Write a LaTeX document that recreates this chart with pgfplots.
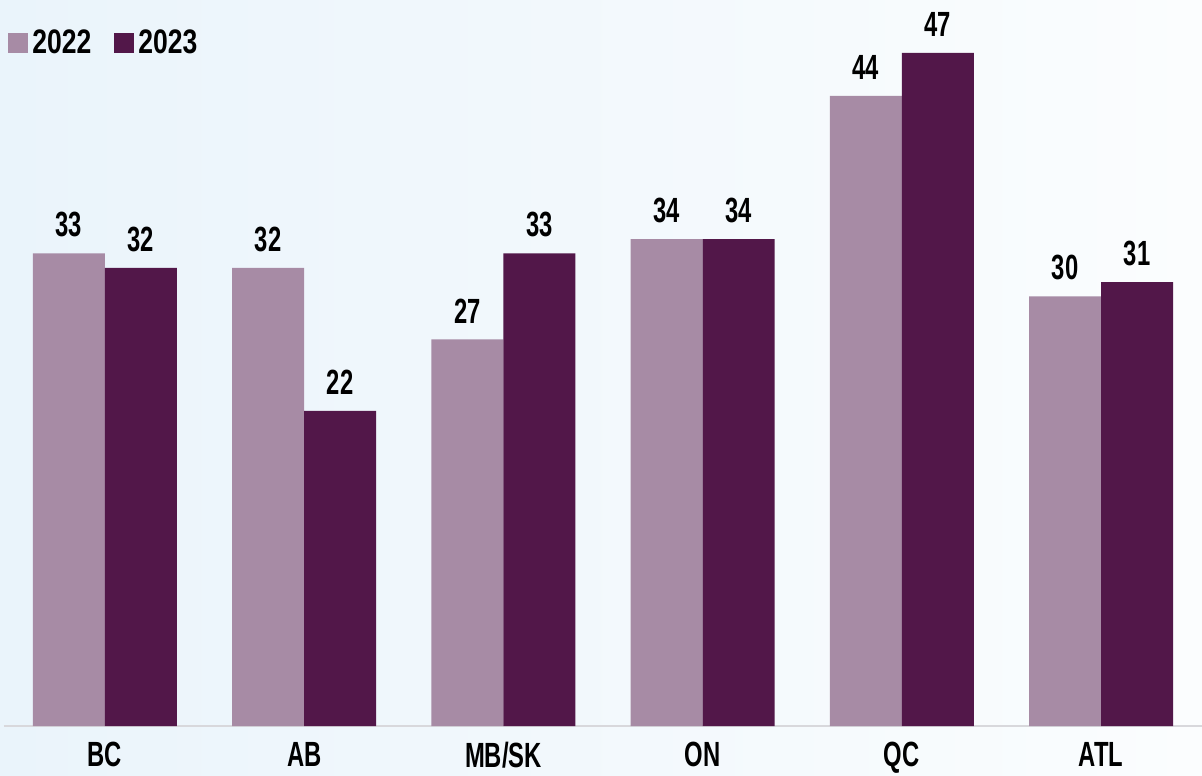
\documentclass[border=0pt]{standalone}
\usepackage{pgfplots}
\pgfplotsset{compat=1.18}
\usepackage{fontspec}
\setmainfont{Liberation Sans}[FakeStretch=0.68]
\newfontfamily\legfont{Liberation Sans}[FakeStretch=0.78]
\definecolor{light}{HTML}{A78BA5}
\definecolor{dark}{HTML}{521749}
\definecolor{bgleft}{HTML}{EAF4FB}
\definecolor{bgright}{HTML}{FBFDFE}
\definecolor{axisgray}{HTML}{D8D8DC}

\begin{document}
\begin{tikzpicture}
\shade[left color=bgleft, right color=bgright] (0,0) rectangle (601pt,387.5pt);
\begin{axis}[
    at={(2pt,24.5pt)}, anchor=south west,
    scale only axis,
    width=599pt, height=363pt,
    ybar=0pt, bar width=36pt,
    xmin=-0.507, xmax=5.507,
    ymin=0, ymax=50.7,
    xtick=data,
    xticklabels={BC,AB,MB/SK,ON,QC,ATL},
    ytick=\empty,
    axis x line*=bottom,
    axis y line=none,
    x axis line style={draw=axisgray, line width=1pt, -},
    major tick length=0pt,
    xticklabel style={font=\bfseries\fontsize{17.5}{17.5}\selectfont, anchor=north, yshift=-4.5pt},
    nodes near coords,
    every node near coord/.append style={font=\bfseries\fontsize{17.5}{17.5}\selectfont, yshift=4.5pt},
    /pgf/number format/assume math mode=true,
    clip=false,
    legend columns=2,
    legend style={draw=none, fill=none, inner sep=0pt,
        at={(rel axis cs:0,1)}, anchor=west, xshift=2pt, yshift=-21.5pt,
        font=\legfont\bfseries\fontsize{17}{17}\selectfont,
        /tikz/every even column/.style={column sep=9.5pt}},
    legend image code/.code={\fill[#1] (0pt,-5pt) rectangle (10pt,5pt);},
]
\addplot[fill=light, draw=none] coordinates {(0,33) (1,32) (2,27) (3,34) (4,44) (5,30)};
\addplot[fill=dark, draw=none] coordinates {(0,32) (1,22) (2,33) (3,34) (4,47) (5,31)};
\legend{2022,2023}
\end{axis}
\pgfresetboundingbox
\useasboundingbox (0,0) rectangle (601pt,387.5pt);
\end{tikzpicture}
\end{document}
